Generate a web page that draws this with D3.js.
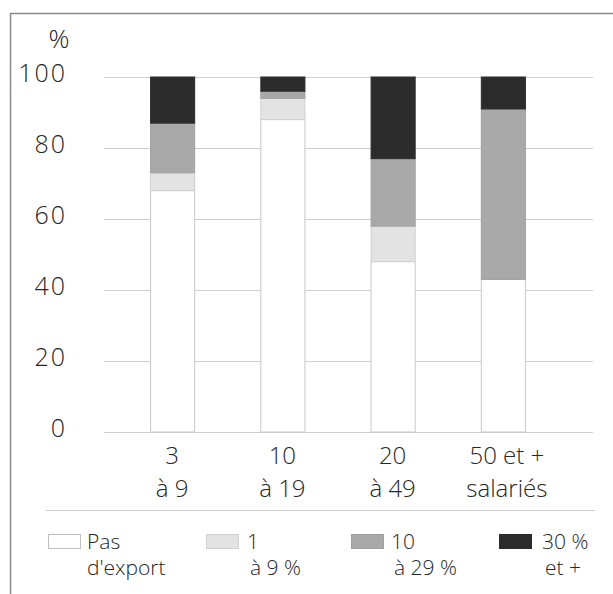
<!DOCTYPE html>
<html>
<head>
<meta charset="utf-8">
<script src="https://cdn.jsdelivr.net/npm/d3@7/dist/d3.min.js"></script>
<style>
  html, body { margin: 0; padding: 0; background: #fff; }
  svg { display: block; }
  text { font-family: "Open Sans", "Lato", sans-serif; font-weight: 300; fill: #262626; }
</style>
</head>
<body>
<svg id="chart" width="613" height="594"></svg>
<script>
// ---- data ----
const categories = ["3 à 9", "10 à 19", "20 à 49", "50 et + salariés"];
const categoryLines = [["3", "à 9"], ["10", "à 19"], ["20", "à 49"], ["50 et +", "salariés"]];
const seriesKeys = ["pas", "e1", "e10", "e30"];
const seriesLabels = [["Pas", "d'export"], ["1", "à 9 %"], ["10", "à 29 %"], ["30 %", "et +"]];
const pasExport = [68, 88, 48, 43];
const export1to9 = [5, 6, 10, 0];
const export10to29 = [14, 2, 19, 48];
const export30plus = [13, 4, 23, 9];
const yTicks = [0, 20, 40, 60, 80, 100];
const yUnit = "%";

const colors = ["#ffffff", "#e3e3e3", "#a9a9a9", "#2c2c2c"];
const strokes = ["#c8c8c8", "#d0d0d0", "#a0a0a0", "#2c2c2c"];

const rows = categories.map((c, i) => ({
  cat: c, pas: pasExport[i], e1: export1to9[i], e10: export10to29[i], e30: export30plus[i]
}));

const svg = d3.select("#chart");

// frame
svg.append("path")
  .attr("d", "M10.5,600 L10.5,13.5 L620,13.5")
  .attr("fill", "none").attr("stroke", "#8a8a8a").attr("stroke-width", 1.5);

const x = d3.scaleBand().domain(categories).range([117, 558]).paddingInner(0.6).paddingOuter(0.3);
const y = d3.scaleLinear().domain([0, 100]).range([432, 77]);

// gridlines
svg.append("g").selectAll("line").data(yTicks).join("line")
  .attr("x1", 104).attr("x2", 593)
  .attr("y1", d => Math.round(y(d)) + 0.5).attr("y2", d => Math.round(y(d)) + 0.5)
  .attr("stroke", "#cfcfcf").attr("stroke-width", 1.2);

// y tick labels
svg.append("g").selectAll("text").data(yTicks).join("text")
  .attr("x", 67).attr("y", d => y(d) + 5)
  .attr("text-anchor", "end")
  .attr("font-size", 25)
  .attr("letter-spacing", 2)
  .text(d => d);

svg.append("text").attr("x", 59).attr("y", 48).attr("text-anchor", "middle")
  .attr("font-size", 26).text(yUnit);

// stacked bars
const stack = d3.stack().keys(seriesKeys)(rows);
svg.append("g").selectAll("g").data(stack).join("g")
  .attr("fill", (d, i) => colors[i])
  .attr("stroke", (d, i) => strokes[i])
  .selectAll("rect").data(d => d.filter(p => p[1] - p[0] > 0)).join("rect")
  .attr("x", d => x(d.data.cat) + 0.5)
  .attr("width", x.bandwidth())
  .attr("y", d => y(d[1]))
  .attr("height", d => y(d[0]) - y(d[1]))
  .attr("stroke-width", 1);

// x labels
const xl = svg.append("g").selectAll("text").data(categories).join("text")
  .attr("text-anchor", "middle")
  .attr("font-size", 24);
xl.each(function(d, i) {
  const t = d3.select(this);
  const cx = x(d) + x.bandwidth() / 2 + (i === 3 ? 4 : 0);
  t.append("tspan").attr("x", cx).attr("y", 464).text(categoryLines[i][0]);
  t.append("tspan").attr("x", cx).attr("y", 497).text(categoryLines[i][1]);
});

// separator
svg.append("line").attr("x1", 46).attr("x2", 595).attr("y1", 510.5).attr("y2", 510.5)
  .attr("stroke", "#cfcfcf").attr("stroke-width", 1.2);

// legend
const legX = [48, 206, 351, 499];
const legTextX = [87, 247, 391, 542];
const leg = svg.append("g").selectAll("g").data(seriesKeys).join("g");
leg.append("rect")
  .attr("x", (d, i) => legX[i] + 0.5).attr("y", 534.5)
  .attr("width", 32).attr("height", 14)
  .attr("fill", (d, i) => colors[i])
  .attr("stroke", (d, i) => i === 0 ? "#c0c0c0" : strokes[i]);
leg.append("text")
  .attr("font-size", 21)
  .each(function(d, i) {
    const t = d3.select(this);
    t.append("tspan").attr("x", legTextX[i]).attr("y", 549).text(seriesLabels[i][0]);
    t.append("tspan").attr("x", legTextX[i] + (i === 0 ? 0 : 3)).attr("y", 575).text(seriesLabels[i][1]);
  });
</script>
</body>
</html>
